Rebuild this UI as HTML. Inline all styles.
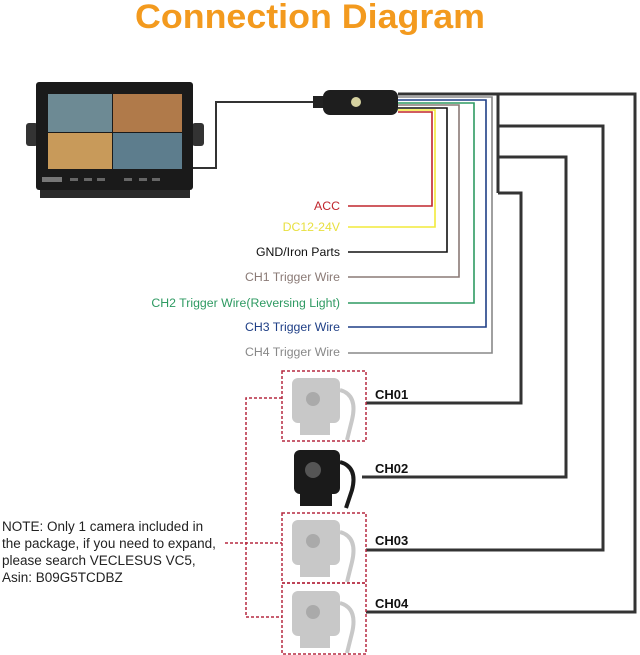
<!DOCTYPE html>
<html><head><meta charset="utf-8"><style>
html,body{margin:0;padding:0;background:#fff;}
svg{display:block;font-family:"Liberation Sans",sans-serif;}
</style></head><body>
<svg width="640" height="655" viewBox="0 0 640 655" xmlns="http://www.w3.org/2000/svg">
<text x="310" y="28" text-anchor="middle" font-size="34" font-weight="bold" fill="#f39a1e" textLength="350" lengthAdjust="spacingAndGlyphs">Connection Diagram</text>

<!-- monitor -->
<rect x="26" y="123" width="12" height="23" rx="3" fill="#333"/>
<rect x="192" y="123" width="12" height="23" rx="3" fill="#333"/>
<rect x="40" y="184" width="150" height="14" fill="#2a2a2a"/>
<rect x="36" y="82" width="157" height="108" rx="3" fill="#1a1a1a"/>
<rect x="48" y="94" width="64" height="38" fill="#6d8a94"/>
<rect x="113" y="94" width="69" height="38" fill="#b07a4a"/>
<rect x="48" y="133" width="64" height="36" fill="#c89a5a"/>
<rect x="113" y="133" width="69" height="36" fill="#5d7d8d"/>
<rect x="42" y="177" width="20" height="5" fill="#777"/>
<g fill="#666"><rect x="70" y="178" width="8" height="3"/><rect x="84" y="178" width="8" height="3"/><rect x="97" y="178" width="8" height="3"/><rect x="124" y="178" width="8" height="3"/><rect x="139" y="178" width="8" height="3"/><rect x="152" y="178" width="8" height="3"/></g>
<polyline points="193,168 216,168 216,102 313,102" fill="none" stroke="#333" stroke-width="2"/>

<!-- connector -->
<rect x="313" y="96" width="12" height="12" fill="#222"/>
<rect x="323" y="90" width="75" height="25" rx="7" fill="#1e1e1e"/>
<circle cx="356" cy="102" r="5" fill="#d6d2a0"/>

<!-- colored wires -->
<g fill="none" stroke-width="1.6">
<polyline points="398,112 432,112 432,206 348,206" stroke="#c0262d"/>
<polyline points="398,110 435,110 435,227 348,227" stroke="#f2ea3a"/>
<polyline points="398,108 447,108 447,252 348,252" stroke="#111"/>
<polyline points="398,105 459,105 459,277 348,277" stroke="#8a7a76"/>
<polyline points="398,103 474,103 474,303 348,303" stroke="#2e9a62"/>
<polyline points="398,100 486,100 486,327 348,327" stroke="#1f3f86"/>
<polyline points="398,97 492,97 492,353 348,353" stroke="#888"/>
</g>
<g font-size="12.3" text-anchor="end">
<text x="340" y="210" fill="#c0262d">ACC</text>
<text x="340" y="231" fill="#e8e040">DC12-24V</text>
<text x="340" y="256" fill="#111">GND/Iron Parts</text>
<text x="340" y="281" fill="#8a7a76">CH1 Trigger Wire</text>
<text x="340" y="307" fill="#2e9a62">CH2 Trigger Wire(Reversing Light)</text>
<text x="340" y="331" fill="#1f3f86">CH3 Trigger Wire</text>
<text x="340" y="356" fill="#888">CH4 Trigger Wire</text>
</g>

<!-- black trunk -->
<g fill="none" stroke="#333" stroke-width="3">
<polyline points="398,94 635,94 635,612 366,612"/>
<polyline points="498,94 498,193"/>
<polyline points="498,126 603,126 603,550 366,550"/>
<polyline points="498,157 566,157 566,477 362,477"/>
<polyline points="498,193 521,193 521,403 366,403"/>
</g>
<g font-size="13" font-weight="bold" fill="#111">
<text x="375" y="399">CH01</text>
<text x="375" y="473">CH02</text>
<text x="375" y="545">CH03</text>
<text x="375" y="608">CH04</text>
</g>

<!-- cameras -->
<g fill="#c8c8c8">
<g><rect x="292" y="378" width="48" height="45" rx="6"/><rect x="300" y="420" width="30" height="15"/><path d="M340,390 q18,5 12,30 l-5,20" stroke="#c8c8c8" stroke-width="4" fill="none"/></g>
<g transform="translate(0,142)"><rect x="292" y="378" width="48" height="45" rx="6"/><rect x="300" y="420" width="30" height="15"/><path d="M340,390 q18,5 12,30 l-5,20" stroke="#c8c8c8" stroke-width="4" fill="none"/></g>
<g transform="translate(0,213)"><rect x="292" y="378" width="48" height="45" rx="6"/><rect x="300" y="420" width="30" height="15"/><path d="M340,390 q18,5 12,30 l-5,20" stroke="#c8c8c8" stroke-width="4" fill="none"/></g>
</g>
<g><rect x="294" y="450" width="46" height="44" rx="6" fill="#1a1a1a"/><rect x="300" y="490" width="32" height="16" fill="#1a1a1a"/><circle cx="313" cy="470" r="8" fill="#555"/><path d="M340,462 q18,5 12,28 l-6,18" stroke="#1a1a1a" stroke-width="4" fill="none"/></g>
<g><circle cx="313" cy="399" r="7" fill="#aaa"/><circle cx="313" cy="541" r="7" fill="#aaa"/><circle cx="313" cy="612" r="7" fill="#aaa"/></g>

<!-- dashed boxes -->
<g fill="none" stroke="#b52a40" stroke-width="1.5" stroke-dasharray="3,2">
<rect x="282" y="371" width="84" height="70"/>
<rect x="282" y="513" width="84" height="70"/>
<rect x="282" y="583" width="84" height="71"/>
<polyline points="282,398 246,398 246,617 282,617"/>
<line x1="225" y1="543" x2="282" y2="543"/>
</g>
<g font-size="13.5" fill="#222">
<text x="2" y="531">NOTE: Only 1 camera included in</text>
<text x="2" y="548">the package, if you need to expand,</text>
<text x="2" y="565">please search VECLESUS VC5,</text>
<text x="2" y="582">Asin: B09G5TCDBZ</text>
</g>
</svg>
</body></html>
